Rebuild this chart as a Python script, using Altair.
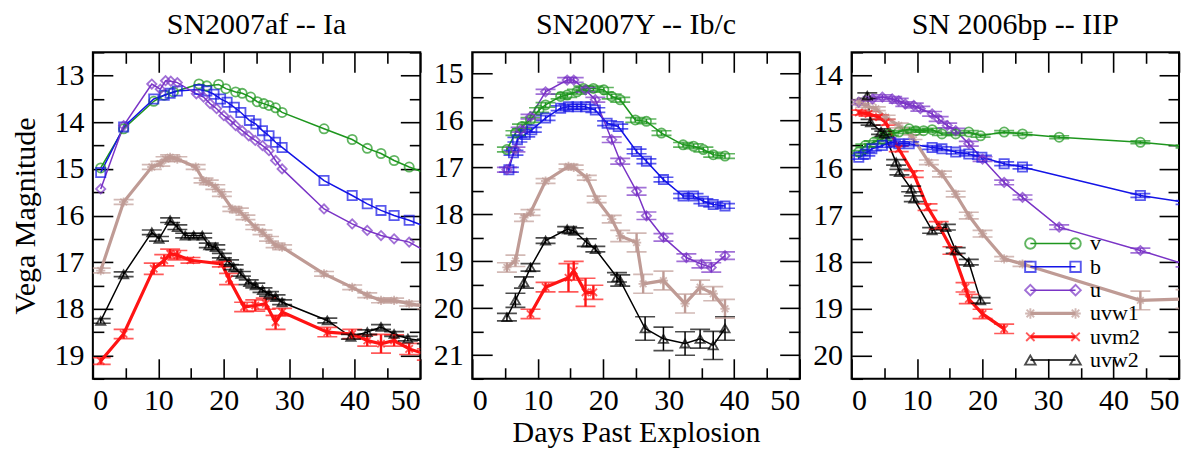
import altair as alt
import pandas as pd

# ---------------- data ----------------
bands = ["v", "b", "u", "uvw1", "uvm2", "uvw2"]
thick_bands = ["uvw1", "uvm2"]
band_colors = ["#1e961e", "#1414e6", "#7a34c6", "#bf9b95", "#ff1414", "#000000"]
ASTER = "M-1,0L1,0M0,-1L0,1M-0.72,-0.72L0.72,0.72M-0.72,0.72L0.72,-0.72"
XMARK = "M-0.8,-0.8L0.8,0.8M-0.8,0.8L0.8,-0.8"
band_shapes = ["circle", "square", "diamond", ASTER, XMARK, "triangle-up"]

titles = ["SN2007af -- Ia", "SN2007Y -- Ib/c", "SN 2006bp -- IIP"]
x_ticks = [0, 10, 20, 30, 40, 50]
x_minor = [5, 15, 25, 35, 45]

# SN2007af
af_v_d = [1.2, 4.7, 9.3, 10.9, 12.3, 16.2, 17.4, 19.2, 20.3, 21.8, 22.8, 24.1, 25.1, 26.1, 26.9, 27.9, 28.9, 35.3, 39.6, 41.9, 44.0, 46.0, 48.3, 51.0]
af_v_m = [14.98, 14.14, 13.55, 13.42, 13.35, 13.18, 13.22, 13.19, 13.28, 13.35, 13.38, 13.46, 13.56, 13.60, 13.64, 13.69, 13.79, 14.14, 14.37, 14.56, 14.67, 14.82, 14.96, 15.1]
af_v_e = [0] * 24
af_b_d = [1.2, 4.7, 9.3, 10.9, 11.8, 12.9, 16.2, 17.4, 18.5, 19.5, 20.5, 21.6, 22.6, 23.9, 24.9, 25.9, 26.9, 27.9, 28.9, 35.3, 39.6, 41.9, 44.0, 46.0, 48.3, 51.0]
af_b_m = [15.08, 14.1, 13.5, 13.42, 13.38, 13.33, 13.3, 13.33, 13.4, 13.5, 13.57, 13.68, 13.79, 13.96, 14.04, 14.18, 14.29, 14.43, 14.54, 15.25, 15.57, 15.75, 15.89, 16.0, 16.1, 16.25]
af_b_e = [0] * 26
af_u_d = [1.2, 4.7, 9.0, 10.3, 11.1, 11.9, 12.9, 15.8, 16.9, 17.9, 18.9, 20.0, 21.0, 21.8, 22.8, 23.8, 24.8, 25.9, 26.9, 27.9, 28.9, 35.3, 39.6, 41.9, 44.0, 46.0, 48.3, 51.0]
af_u_m = [15.43, 14.07, 13.18, 13.29, 13.11, 13.12, 13.15, 13.39, 13.46, 13.6, 13.71, 13.86, 13.96, 14.07, 14.18, 14.29, 14.39, 14.5, 14.61, 14.82, 15.0, 15.86, 16.18, 16.32, 16.43, 16.5, 16.57, 16.78]
af_u_e = [0] * 28
af_w1_d = [1.2, 4.7, 9.0, 10.3, 11.1, 11.8, 12.9, 15.7, 16.9, 17.7, 18.7, 19.7, 21.3, 22.3, 23.3, 24.8, 25.9, 26.9, 27.9, 28.9, 35.3, 39.6, 41.9, 44.0, 46.0, 48.3, 51.0]
af_w1_m = [17.18, 15.71, 14.96, 14.89, 14.79, 14.75, 14.79, 14.96, 15.25, 15.29, 15.39, 15.54, 15.86, 15.89, 16.04, 16.25, 16.36, 16.5, 16.64, 16.68, 17.25, 17.54, 17.71, 17.82, 17.82, 17.89, 17.95]
af_w1_e = [0.05] * 27
af_m2_d = [1.2, 4.7, 9.3, 10.9, 11.8, 12.9, 14.9, 19.7, 20.8, 23.1, 24.8, 26.4, 27.9, 28.9, 35.8, 39.6, 41.9, 44.0, 46.0, 48.3, 51.0]
af_m2_m = [19.12, 18.54, 17.14, 16.96, 16.82, 16.85, 16.96, 17.04, 17.36, 17.96, 17.93, 17.89, 18.29, 18.07, 18.5, 18.54, 18.68, 18.75, 18.68, 18.86, 18.98]
af_m2_e = [0.07, 0.1, 0.12, 0.12, 0.1, 0.1, 0.06, 0.06, 0.12, 0.1, 0.12, 0.12, 0.15, 0.08, 0.1, 0.1, 0.12, 0.2, 0.12, 0.12, 0.12]
af_w2_d = [1.2, 4.7, 9.0, 10.1, 11.8, 12.9, 14.1, 15.4, 16.7, 17.7, 18.7, 19.7, 20.8, 21.5, 22.6, 23.8, 24.8, 25.9, 26.9, 27.9, 28.9, 35.8, 39.4, 41.9, 44.0, 46.0, 48.1, 51.0]
af_w2_m = [18.26, 17.26, 16.36, 16.5, 16.1, 16.25, 16.43, 16.43, 16.43, 16.64, 16.68, 16.86, 17.0, 17.11, 17.25, 17.43, 17.5, 17.6, 17.68, 17.75, 17.86, 18.25, 18.6, 18.5, 18.39, 18.54, 18.64, 18.7]
af_w2_e = [0.05] * 28

# SN2007Y
y_v_d = [5.3, 6.6, 7.6, 8.9, 10.2, 11.2, 13.5, 14.5, 16.0, 17.0, 18.5, 20.1, 21.3, 22.6, 24.9, 26.6, 28.9, 32.2, 33.8, 35.3, 36.8, 38.6]
y_v_m = [16.62, 16.27, 16.13, 15.99, 15.78, 15.67, 15.49, 15.46, 15.39, 15.32, 15.32, 15.35, 15.49, 15.56, 15.99, 16.02, 16.27, 16.52, 16.55, 16.62, 16.73, 16.76]
y_v_e = [0.05] * 22
y_b_d = [5.6, 6.3, 6.9, 8.1, 9.1, 11.2, 13.5, 14.7, 16.0, 17.3, 18.8, 20.6, 22.3, 25.1, 26.6, 29.2, 32.2, 33.8, 35.3, 36.8, 38.6]
y_b_m = [17.05, 16.69, 16.41, 16.3, 16.2, 15.95, 15.74, 15.71, 15.71, 15.71, 15.78, 16.06, 16.13, 16.66, 16.87, 17.26, 17.61, 17.61, 17.72, 17.79, 17.82]
y_b_e = [0.05] * 21
y_u_d = [5.3, 6.6, 7.4, 8.9, 11.2, 14.5, 15.5, 17.3, 18.8, 21.3, 22.6, 25.1, 26.6, 29.2, 32.7, 35.0, 36.5, 38.6]
y_u_m = [17.05, 16.62, 16.2, 15.92, 15.39, 15.14, 15.14, 15.35, 15.56, 16.41, 16.87, 17.51, 18.03, 18.49, 18.92, 19.06, 19.13, 18.88]
y_u_e = [0.05, 0.05, 0.05, 0.05, 0.05, 0.05, 0.05, 0.05, 0.05, 0.06, 0.06, 0.08, 0.08, 0.08, 0.08, 0.08, 0.1, 0.08]
y_w1_d = [5.3, 6.6, 7.9, 8.9, 11.2, 14.7, 15.5, 17.5, 19.0, 21.3, 22.6, 25.1, 26.1, 29.2, 32.5, 34.8, 36.8, 38.6]
y_w1_m = [19.13, 18.99, 18.07, 17.96, 17.29, 16.98, 17.0, 17.22, 17.68, 18.1, 18.46, 18.6, 19.48, 19.41, 19.9, 19.55, 19.69, 20.01]
y_w1_e = [0.1, 0.12, 0.08, 0.06, 0.05, 0.05, 0.05, 0.05, 0.07, 0.08, 0.12, 0.2, 0.2, 0.2, 0.2, 0.15, 0.15, 0.2]
y_m2_d = [8.9, 11.2, 14.7, 15.5, 17.3, 18.5]
y_m2_m = [20.12, 19.55, 19.35, 19.2, 19.66, 19.66]
y_m2_e = [0.1, 0.1, 0.3, 0.2, 0.3, 0.15]
y_w2_d = [5.3, 6.6, 7.9, 8.9, 11.2, 14.5, 15.5, 17.5, 18.8, 22.1, 22.6, 26.4, 29.2, 32.5, 34.8, 36.8, 38.6]
y_w2_m = [20.19, 19.83, 19.45, 19.13, 18.56, 18.32, 18.35, 18.6, 18.74, 19.34, 19.41, 20.43, 20.65, 20.75, 20.65, 20.79, 20.43]
y_w2_e = [0.08, 0.15, 0.12, 0.08, 0.06, 0.06, 0.06, 0.08, 0.06, 0.1, 0.12, 0.25, 0.25, 0.25, 0.2, 0.3, 0.25]

# SN2006bp
bp_v_d = [1.1, 2.1, 3.4, 4.7, 5.7, 7.2, 8.8, 9.8, 11.0, 12.3, 13.8, 15.9, 17.9, 19.7, 23.3, 26.1, 31.7, 44.1, 51.0]
bp_v_m = [15.64, 15.5, 15.43, 15.36, 15.25, 15.21, 15.14, 15.18, 15.18, 15.16, 15.25, 15.25, 15.21, 15.29, 15.21, 15.25, 15.32, 15.43, 15.52]
bp_v_e = [0.03] * 19
bp_b_d = [1.1, 2.1, 3.1, 4.7, 6.0, 7.2, 8.8, 12.3, 13.8, 15.9, 17.9, 19.9, 23.3, 26.1, 44.1, 51.0]
bp_b_m = [15.75, 15.68, 15.57, 15.5, 15.43, 15.46, 15.46, 15.54, 15.57, 15.64, 15.68, 15.75, 15.89, 15.96, 16.57, 16.72]
bp_b_e = [0.04] * 16
bp_u_d = [1.1, 3.2, 4.7, 6.2, 7.2, 8.2, 9.5, 10.5, 12.3, 13.3, 14.6, 15.9, 17.9, 20.0, 23.3, 26.1, 31.7, 44.1, 51.0]
bp_u_m = [14.57, 14.5, 14.46, 14.5, 14.54, 14.61, 14.64, 14.71, 14.82, 14.93, 15.07, 15.18, 15.46, 15.79, 16.29, 16.61, 17.25, 17.75, 18.05]
bp_u_e = [0.05] * 19
bp_w1_d = [1.1, 2.1, 3.7, 5.2, 7.2, 9.3, 11.8, 13.8, 15.9, 17.9, 20.0, 23.3, 26.1, 44.1, 51.0]
bp_w1_m = [14.57, 14.64, 14.71, 14.89, 15.07, 15.32, 15.86, 16.11, 16.54, 17.0, 17.39, 17.93, 18.04, 18.82, 18.79]
bp_w1_e = [0.04, 0.04, 0.04, 0.04, 0.05, 0.05, 0.05, 0.06, 0.06, 0.07, 0.07, 0.05, 0.05, 0.2, 0.2]
bp_m2_d = [1.1, 2.6, 4.2, 5.2, 7.2, 9.5, 11.6, 13.3, 15.4, 17.4, 17.9, 20.0, 23.3]
bp_m2_m = [14.79, 14.82, 14.89, 15.0, 15.57, 16.11, 16.82, 17.21, 17.75, 18.54, 18.79, 19.11, 19.43]
bp_m2_e = [0.05, 0.05, 0.05, 0.06, 0.06, 0.07, 0.07, 0.08, 0.08, 0.1, 0.1, 0.1, 0.1]
bp_w2_d = [2.4, 2.9, 4.5, 5.0, 6.8, 7.3, 9.1, 9.5, 12.3, 14.4, 15.9, 17.9, 19.7]
bp_w2_m = [14.43, 15.0, 15.2, 15.25, 15.86, 16.07, 16.43, 16.64, 17.32, 17.25, 17.75, 18.0, 18.82]
bp_w2_e = [0.06] * 13

legend_mag = [17.6, 18.1, 18.6, 19.1, 19.6, 20.1]

# ---------------- helpers ----------------
FONT = "Liberation Serif"
W, H = 328, 327
THIN, THICK = 1.5, 3.2


def table(groups):
    rows = []
    for band, d, m, e in groups:
        for di, mi, ei in zip(d, m, e):
            rows.append({"band": band, "day": di, "mag": mi, "err": ei})
    return pd.DataFrame(rows)


af_df = table([("v", af_v_d, af_v_m, af_v_e), ("b", af_b_d, af_b_m, af_b_e), ("u", af_u_d, af_u_m, af_u_e),
               ("uvw1", af_w1_d, af_w1_m, af_w1_e), ("uvm2", af_m2_d, af_m2_m, af_m2_e), ("uvw2", af_w2_d, af_w2_m, af_w2_e)])
y_df = table([("v", y_v_d, y_v_m, y_v_e), ("b", y_b_d, y_b_m, y_b_e), ("u", y_u_d, y_u_m, y_u_e),
              ("uvw1", y_w1_d, y_w1_m, y_w1_e), ("uvm2", y_m2_d, y_m2_m, y_m2_e), ("uvw2", y_w2_d, y_w2_m, y_w2_e)])
bp_df = table([("v", bp_v_d, bp_v_m, bp_v_e), ("b", bp_b_d, bp_b_m, bp_b_e), ("u", bp_u_d, bp_u_m, bp_u_e),
               ("uvw1", bp_w1_d, bp_w1_m, bp_w1_e), ("uvm2", bp_m2_d, bp_m2_m, bp_m2_e), ("uvw2", bp_w2_d, bp_w2_m, bp_w2_e)])

color_enc = alt.Color("band:N", scale=alt.Scale(domain=bands, range=band_colors), legend=None)
shape_enc = alt.Shape("band:N", scale=alt.Scale(domain=bands, range=band_shapes), legend=None)
THICK_TEST = "indexof(['uvw1','uvm2'], datum.band) >= 0"
THIN_TEST = "indexof(['uvw1','uvm2'], datum.band) < 0"


def panel(df, title, ydom, ytitle, xtitle, legend=False):
    xs = alt.Scale(domain=[0, 50], nice=False, zero=False)
    ys = alt.Scale(domain=ydom, reverse=True, nice=False, zero=False)
    lo, hi = int(round(ydom[0] + 0.49)), int(ydom[1])
    y_major = list(range(lo, hi + 1))
    y_minor = [v + 0.5 for v in range(lo - 1, hi + 1) if ydom[0] <= v + 0.5 <= ydom[1]]
    base = alt.Chart(df)
    X0 = alt.X("day:Q", scale=xs, axis=None)
    Y0 = alt.Y("mag:Q", scale=ys, axis=None)

    lines_thin = base.transform_filter(THIN_TEST).mark_line(clip=True, strokeWidth=THIN).encode(
        x=alt.X("day:Q", scale=xs, axis=alt.Axis(values=x_ticks, ticks=False, tickSize=0, domain=False,
                                                  labelPadding=7, title=xtitle, titlePadding=2)),
        y=alt.Y("mag:Q", scale=ys, axis=alt.Axis(values=y_major, ticks=False, tickSize=0, domain=False,
                                                  labelPadding=9, title=ytitle, titlePadding=13)),
        color=color_enc, detail="band:N")
    lines_thick = base.transform_filter(THICK_TEST).mark_line(clip=True, strokeWidth=THICK).encode(
        x=X0, y=Y0, color=color_enc, detail="band:N")

    ebase = base.transform_filter("datum.err > 0").transform_calculate(
        lo="datum.mag - datum.err", hi="datum.mag + datum.err")
    rules_thin = ebase.transform_filter(THIN_TEST).mark_rule(clip=True, strokeWidth=THIN).encode(
        x=X0, y=alt.Y("lo:Q", scale=ys, axis=None), y2="hi:Q", color=color_enc)
    rules_thick = ebase.transform_filter(THICK_TEST).mark_rule(clip=True, strokeWidth=2.4).encode(
        x=X0, y=alt.Y("lo:Q", scale=ys, axis=None), y2="hi:Q", color=color_enc)
    cap_lo = ebase.mark_tick(orient="horizontal", size=20, thickness=1.7, clip=True).encode(
        x=X0, y=alt.Y("lo:Q", scale=ys, axis=None), color=color_enc)
    cap_hi = ebase.mark_tick(orient="horizontal", size=20, thickness=1.7, clip=True).encode(
        x=X0, y=alt.Y("hi:Q", scale=ys, axis=None), color=color_enc)
    points = base.mark_point(filled=False, clip=True, size=85, strokeWidth=1.8).encode(
        x=X0, y=Y0, color=color_enc, shape=shape_enc)

    def ticks(xorient, yorient, xvals, yvals, size):
        return base.mark_point(opacity=0).encode(
            x=alt.X("day:Q", scale=xs, axis=alt.Axis(orient=xorient, offset=-H, values=xvals, tickSize=size,
                                                      tickWidth=1.6, tickColor="black", labels=False,
                                                      domain=False, title=None)),
            y=alt.Y("mag:Q", scale=ys, axis=alt.Axis(orient=yorient, offset=-W, values=yvals, tickSize=size,
                                                      tickWidth=1.6, tickColor="black", labels=False,
                                                      domain=False, title=None)))

    t1 = ticks("top", "right", x_ticks, y_major, 20)
    t2 = ticks("top", "right", x_minor, y_minor, 11)
    t3 = ticks("bottom", "left", x_ticks, y_major, 20)
    t4 = ticks("bottom", "left", x_minor, y_minor, 11)

    layers = [lines_thin, lines_thick, rules_thin, rules_thick, cap_lo, cap_hi, points, t1, t2, t3, t4]

    if legend:
        ldf = pd.DataFrame({"band": bands, "ly": legend_mag})
        lbase = alt.Chart(ldf).transform_calculate(x1="27.3", x2="34.2", xt="36.4")
        LY = alt.Y("ly:Q", scale=ys, axis=None)
        lrule_thin = lbase.transform_filter(THIN_TEST).mark_rule(strokeWidth=THIN).encode(
            x=alt.X("x1:Q", scale=xs, axis=None), x2="x2:Q", y=LY, color=color_enc)
        lrule_thick = lbase.transform_filter(THICK_TEST).mark_rule(strokeWidth=THICK).encode(
            x=alt.X("x1:Q", scale=xs, axis=None), x2="x2:Q", y=LY, color=color_enc)
        lp1 = lbase.mark_point(filled=False, size=110, strokeWidth=1.9).encode(
            x=alt.X("x1:Q", scale=xs, axis=None), y=LY, color=color_enc, shape=shape_enc)
        lp2 = lbase.mark_point(filled=False, size=110, strokeWidth=1.9).encode(
            x=alt.X("x2:Q", scale=xs, axis=None), y=LY, color=color_enc, shape=shape_enc)
        ltext = lbase.mark_text(align="left", baseline="middle", font=FONT, fontSize=22, color="black").encode(
            x=alt.X("xt:Q", scale=xs, axis=None), y=LY, text="band:N")
        layers += [lrule_thin, lrule_thick, lp1, lp2, ltext]

    return alt.layer(*layers).resolve_axis(x="independent", y="independent").properties(
        width=W, height=H,
        title=alt.TitleParams(title, font=FONT, fontSize=30, fontWeight="normal", color="black",
                              anchor="middle", offset=12))


p1 = panel(af_df, titles[0], [12.5, 19.5], "Vega Magnitude", None)
p2 = panel(y_df, titles[1], [14.55, 21.5], None, "Days Past Explosion")
p3 = panel(bp_df, titles[2], [13.5, 20.5], None, None, legend=True)

chart = alt.hconcat(p1, p2, p3, spacing=52, bounds="flush").properties(
    padding={"left": 2, "top": 0, "right": 0, "bottom": 0}
).configure_view(
    stroke="black", strokeWidth=2
).configure_axis(
    grid=False, labelFont=FONT, labelFontSize=30, labelColor="black",
    titleFont=FONT, titleFontSize=30, titleFontWeight="normal", titleColor="black"
)

chart.save("out.html", embed_options={"renderer": "svg", "actions": False})
